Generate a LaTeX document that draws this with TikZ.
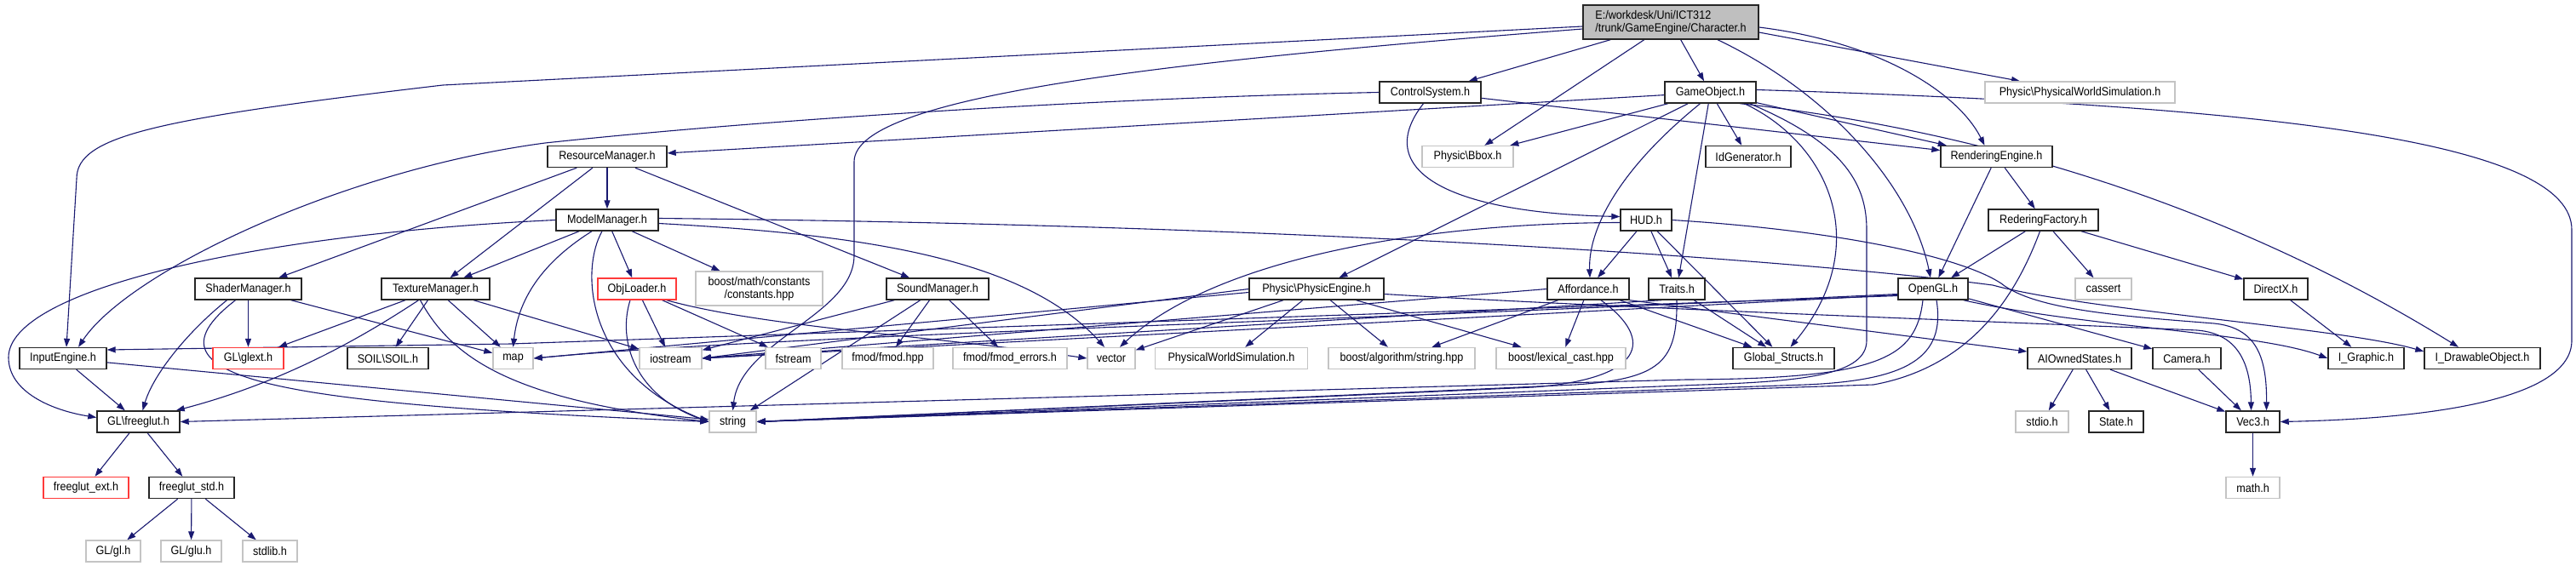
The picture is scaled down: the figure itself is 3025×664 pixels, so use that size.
\documentclass[tikz,border=0pt]{standalone}
\usepackage{fontspec}
\setmainfont{Liberation Sans}[FakeStretch=0.9]
\usetikzlibrary{arrows.meta,calc}
\definecolor{edgec}{HTML}{191970}
\definecolor{bdark}{HTML}{262626}
\definecolor{bgray}{HTML}{C4C4C4}
\definecolor{bred}{HTML}{FF3A3A}
\definecolor{chfill}{HTML}{BFBFBF}
\pgfdeclarelayer{bg}
\pgfdeclarelayer{edges}
\pgfsetlayers{bg,edges,main}
\begin{document}
\begin{tikzpicture}[x=1pt,y=-1pt,
  nb/.style={draw=bdark,line width=1.4pt,fill=white,inner sep=0pt,minimum height=25pt,font=\fontsize{14}{16}\selectfont,text=black},
  ng/.style={nb,draw=bgray},
  nr/.style={nb,draw=bred},
  edg/.style={draw=edgec,line width=1.1pt,-{Triangle[length=10pt,width=7pt]}},
]
\begin{pgfonlayer}{bg}
\fill[white] (0,0) rectangle (3025,664);
\end{pgfonlayer}
\useasboundingbox (0,0) rectangle (3025,664);
% row 0
\node[nb,fill=chfill,minimum width=206pt,minimum height=40pt,align=left,font=\fontsize{14}{15}\selectfont] (ch) at (1962,26) {E:/workdesk/Uni/ICT312\\/trunk/GameEngine/Character.h};
% row 1
\node[nb,minimum width=119pt] (cs) at (1679.5,108.5) {ControlSystem.h};
\node[nb,minimum width=107pt] (go) at (2008.5,108.5) {GameObject.h};
\node[ng,minimum width=223pt] (pws) at (2442.5,108.5) {Physic\textbackslash PhysicalWorldSimulation.h};
% row 2
\node[nb,minimum width=140pt] (rm) at (713,184) {ResourceManager.h};
\node[ng,minimum width=107pt] (bbox) at (1723.5,184) {Physic\textbackslash Bbox.h};
\node[nb,minimum width=100pt] (idg) at (2053,184) {IdGenerator.h};
\node[nb,minimum width=131pt] (re) at (2344.5,184) {RenderingEngine.h};
% row 3
\node[nb,minimum width=120pt] (mm) at (713,258.5) {ModelManager.h};
\node[nb,minimum width=60pt] (hud) at (1933,258.5) {HUD.h};
\node[nb,minimum width=129pt] (rf) at (2399.5,258.5) {RederingFactory.h};
% row 4
\node[nb,minimum width=125pt] (sm) at (291.5,339.5) {ShaderManager.h};
\node[nb,minimum width=127pt] (tm) at (511.5,339.5) {TextureManager.h};
\node[nr,minimum width=92pt] (obj) at (748,339.5) {ObjLoader.h};
\node[ng,minimum width=149pt,minimum height=40pt,align=center,font=\fontsize{14}{15}\selectfont] (bmc) at (891.5,339) {boost/math/constants\\/constants.hpp};
\node[nb,minimum width=120pt] (snd) at (1101,339.5) {SoundManager.h};
\node[nb,minimum width=158pt] (pe) at (1546,339.5) {Physic\textbackslash PhysicEngine.h};
\node[nb,minimum width=96pt] (aff) at (1865,339.5) {Affordance.h};
\node[nb,minimum width=66pt] (traits) at (1969,339.5) {Traits.h};
\node[nb,minimum width=82pt] (ogl) at (2270,339.5) {OpenGL.h};
\node[ng,minimum width=66pt] (cassert) at (2470,339.5) {cassert};
\node[nb,minimum width=75pt] (dx) at (2672.5,339.5) {DirectX.h};
% row 5
\node[nb,minimum width=102pt] (ie) at (74,421) {InputEngine.h};
\node[nr,minimum width=83pt] (glext) at (291.5,421) {GL\textbackslash glext.h};
\node[nb,minimum width=95pt] (soil) at (455.5,421) {SOIL\textbackslash SOIL.h};
\node[ng,minimum width=47pt] (map) at (602.5,421) {map};
\node[ng,minimum width=73pt] (ios) at (787.5,421) {iostream};
\node[ng,minimum width=65pt] (fstr) at (931.5,421) {fstream};
\node[ng,minimum width=107pt] (fmodh) at (1042.5,421) {fmod/fmod.hpp};
\node[ng,minimum width=134pt] (fmode) at (1186,421) {fmod/fmod\_errors.h};
\node[ng,minimum width=56pt] (vec) at (1305,421) {vector};
\node[ng,minimum width=179pt] (physws) at (1446,421) {PhysicalWorldSimulation.h};
\node[ng,minimum width=172pt] (balg) at (1646,421) {boost/algorithm/string.hpp};
\node[ng,minimum width=152pt] (blex) at (1833,421) {boost/lexical\_cast.hpp};
\node[nb,minimum width=119pt] (gs) at (2094.5,421) {Global\_Structs.h};
\node[nb,minimum width=122pt] (aio) at (2442,421) {AIOwnedStates.h};
\node[nb,minimum width=80pt] (cam) at (2568,421) {Camera.h};
\node[nb,minimum width=89pt] (igr) at (2778.5,421) {I\_Graphic.h};
\node[nb,minimum width=136pt] (idraw) at (2915,421) {I\_DrawableObject.h};
% row 6
\node[nb,minimum width=97pt] (fg) at (162.5,495.5) {GL\textbackslash freeglut.h};
\node[ng,minimum width=55pt] (str) at (860.5,495.5) {string};
\node[ng,minimum width=62pt] (stdio) at (2398,495.5) {stdio.h};
\node[nb,minimum width=64pt] (state) at (2485,495.5) {State.h};
\node[nb,minimum width=63pt] (vec3) at (2645.5,495.5) {Vec3.h};
% row 7
\node[nr,minimum width=100pt] (fext) at (101,573) {freeglut\_ext.h};
\node[nb,minimum width=100pt] (fstd) at (225,573) {freeglut\_std.h};
\node[ng,minimum width=63pt] (math) at (2645.5,573) {math.h};
% row 8
\node[ng,minimum width=64pt] (gl) at (133,647.5) {GL/gl.h};
\node[ng,minimum width=71pt] (glu) at (224.5,647.5) {GL/glu.h};
\node[ng,minimum width=64pt] (stdlib) at (317,647.5) {stdlib.h};

\begin{pgfonlayer}{edges}
% Character.h
\draw[edg] (ch) -- (cs);
\draw[edg] (ch) -- (go);
\draw[edg] (ch) -- (bbox);
\draw[edg] ($(ch.east)+(0,12)$) -- (pws);
\draw[edg] ($(ch.east)+(0,6)$) .. controls (2210,50) and (2300,110) .. ($(re.north)+(-14,0)$);
\draw[edg] ($(ch.south)+(55,0)$) .. controls (2150,110) and (2245,220) .. ($(ogl.north)+(-3,0)$);
\draw[edg] ($(ch.west)+(0,5)$) -- (520,100) .. controls (180,140) and (90,160) .. (90,210) -- ($(ie.north)+(4,0)$);
\draw[edg] ($(ch.west)+(0,8)$) .. controls (1400,70) and (1003,110) .. (1003,190) -- (1003,300) .. controls (1003,370) and (870,400) .. (str.north);
% ControlSystem.h
\draw[edg] (cs.west) .. controls (1300,115) and (900,140) .. (640,168) .. controls (400,200) and (150,320) .. ($(ie.north)+(18,0)$);
\draw[edg] (cs) -- (re);
\draw[edg] ($(cs.south)+(-8,0)$) .. controls (1610,200) and (1700,250) .. ($(hud.west)+(0,-4)$);
% GameObject.h
\draw[edg] (go) -- (rm);
\draw[edg] (go) -- (bbox);
\draw[edg] (go) -- (pe);
\draw[edg] ($(go.south)+(-12,0)$) .. controls (1900,200) and (1865,270) .. ($(aff.north)+(2,0)$);
\draw[edg] (go) -- (traits);
\draw[edg] (go) -- (idg);
\draw[edg] (go) -- (re);
\draw[edg] ($(go.south)+(40,0)$) .. controls (2150,170) and (2200,290) .. ($(gs.north)+(8,0)$);
\draw[edg] ($(go.south)+(46,0)$) .. controls (2170,170) and (2192,220) .. (2192,270) -- (2192,400) .. controls (2192,440) and (2120,448) .. (2000,452) -- (str.east);
\draw[edg] ($(go.east)+(0,-3)$) .. controls (2700,125) and (3020,170) .. (3020,270) -- (3020,400) .. controls (3020,470) and (2850,492) .. (vec3.east);
\draw[edg] ($(go.south)+(35,0)$) .. controls (2300,150) and (2600,230) .. ($(idraw.north)+(-28,0)$);
% ResourceManager.h
\draw[edg] (rm) -- (mm);
\draw[edg] (rm) -- (sm);
\draw[edg] (rm) -- (tm);
\draw[edg] (rm) -- (snd);
% ModelManager.h
\draw[edg] (mm) -- (tm);
\draw[edg] (mm) -- (obj);
\draw[edg] (mm) -- (bmc);
\draw[edg] ($(mm.south)+(-18,0)$) .. controls (650,300) and (610,340) .. (map.north);
\draw[edg] ($(mm.south)+(-6,0)$) .. controls (680,320) and (690,440) .. (str.west);
\draw[edg] ($(mm.east)+(0,4)$) .. controls (1000,275) and (1200,300) .. ($(vec.north)+(-8,0)$);
\draw[edg] (mm.west) .. controls (300,275) and (10,340) .. (10,420) .. controls (10,460) and (60,482) .. ($(fg.west)+(0,-5)$);
\draw[edg] ($(mm.east)+(0,-2)$) .. controls (1600,265) and (2150,310) .. (2340,335) .. controls (2450,365) and (2750,385) .. ($(idraw.west)+(0,-8)$);
% ShaderManager.h
\draw[edg] (sm) -- (glext);
\draw[edg] ($(sm.south)+(-25,0)$) .. controls (220,390) and (180,440) .. ($(fg.north)+(5,0)$);
\draw[edg] ($(sm.south)+(-15,0)$) .. controls (150,450) and (350,475) .. (str.west);
\draw[edg] (sm) -- (map);
% TextureManager.h
\draw[edg] (tm) -- (glext);
\draw[edg] ($(tm.south)+(-20,0)$) .. controls (420,400) and (330,450) .. ($(fg.north east)+(-5,0)$);
\draw[edg] (tm) -- (soil);
\draw[edg] ($(tm.south)+(-18,0)$) .. controls (530,420) and (600,470) .. (str.west);
\draw[edg] (tm) -- (map);
\draw[edg] (tm) -- (ios);
% ObjLoader.h
\draw[edg] ($(obj.south)+(-8,0)$) .. controls (725,400) and (745,465) .. (str.west);
\draw[edg] (obj) -- (ios);
\draw[edg] (obj) -- (fstr);
\draw[edg] ($(obj.south east)+(-12,0)$) .. controls (900,385) and (1100,395) .. (vec.west);
% SoundManager.h
\draw[edg] (snd) -- (ios);
\draw[edg] (snd) -- (str);
\draw[edg] (snd) -- (fmodh);
\draw[edg] (snd) -- (fmode);
% PhysicEngine.h
\draw[edg] (pe) -- (vec);
\draw[edg] (pe) -- (physws);
\draw[edg] (pe) -- (balg);
\draw[edg] (pe) -- (blex);
\draw[edg] (pe.west) -- (ios.east);
\draw[edg] ($(pe.west)+(0,4)$) -- (map.east);
\draw[edg] ($(pe.east)+(0,6)$) .. controls (1900,362) and (2400,380) .. (2580,388) .. controls (2630,392) and (2643,430) .. ($(vec3.north)+(-2,0)$);
% Affordance.h
\draw[edg] (aff.west) -- (ios.east);
\draw[edg] (aff) -- (balg);
\draw[edg] (aff) -- (blex);
\draw[edg] ($(aff.south)+(15,0)$) .. controls (1945,400) and (1930,445) .. (1800,455) -- (str.east);
\draw[edg] (aff) -- (gs);
\draw[edg] (aff.south east) -- (aio);
% Traits.h
\draw[edg] (traits.south) .. controls (1970,425) and (1950,445) .. (1850,452) -- (str.east);
\draw[edg] (traits) -- (gs);
\draw[edg] ($(traits.south)+(-18,0)$) -- (ios.east);
% HUD.h
\draw[edg] (hud) -- (aff);
\draw[edg] (hud) -- (traits);
\draw[edg] (hud) -- (gs);
\draw[edg] ($(hud.west)+(0,3)$) .. controls (1650,262) and (1420,310) .. ($(vec.north)+(10,0)$);
\draw[edg] (hud.east) .. controls (2150,270) and (2300,300) .. (2350,333) .. controls (2390,365) and (2500,372) .. (2600,380) .. controls (2650,385) and (2662,420) .. ($(vec3.north)+(16,0)$);
% RenderingEngine.h / RederingFactory.h
\draw[edg] (re) -- (ogl);
\draw[edg] (re) -- (rf);
\draw[edg] (rf) -- (ogl);
\draw[edg] (rf) -- (cassert);
\draw[edg] (rf) -- (dx);
\draw[edg] ($(rf.south)+(-4,0)$) .. controls (2370,340) and (2320,430) .. (2200,452) -- (str.east);
% OpenGL.h
\draw[edg] ($(ogl.west)+(0,8)$) -- (600,404) -- ($(ie.east)+(0,-10)$);
\draw[edg] ($(ogl.west)+(0,6)$) .. controls (1500,380) and (900,395) .. (map.east);
\draw[edg] ($(ogl.west)+(0,7)$) -- (ios.east);
\draw[edg] ($(ogl.south)+(-12,0)$) .. controls (2250,420) and (2210,445) .. (1980,446) -- (fg.east);
\draw[edg] ($(ogl.south)+(4,0)$) .. controls (2285,420) and (2240,447) .. (2120,452) -- (str.east);
\draw[edg] (ogl) -- (cam);
\draw[edg] ($(ogl.south east)+(-6,0)$) .. controls (2450,385) and (2650,390) .. (igr.west);
% others
\draw[edg] (dx) -- (igr);
\draw[edg] (aio) -- (stdio);
\draw[edg] (aio) -- (state);
\draw[edg] (aio) -- (vec3);
\draw[edg] (cam) -- (vec3);
\draw[edg] (vec3) -- (math);
\draw[edg] (ie) -- (fg);
\draw[edg] (ie) -- (str);
\draw[edg] (fg) -- (fext);
\draw[edg] (fg) -- (fstd);
\draw[edg] (fstd) -- (gl);
\draw[edg] (fstd) -- (glu);
\draw[edg] (fstd) -- (stdlib);
\end{pgfonlayer}
\end{tikzpicture}
\end{document}
